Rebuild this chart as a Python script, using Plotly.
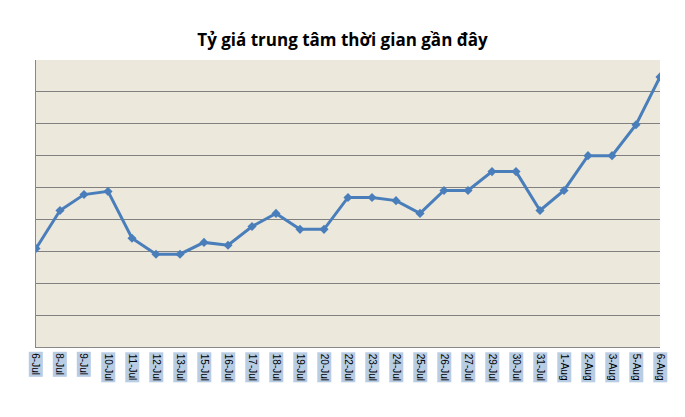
import plotly.graph_objects as go

categories = ["6-Jul","8-Jul","9-Jul","10-Jul","11-Jul","12-Jul","13-Jul","15-Jul","16-Jul","17-Jul",
              "18-Jul","19-Jul","20-Jul","22-Jul","23-Jul","24-Jul","25-Jul","26-Jul","27-Jul","29-Jul",
              "30-Jul","31-Jul","1-Aug","2-Aug","3-Aug","5-Aug","6-Aug"]
values = [3.09,4.28,4.78,4.88,3.41,2.91,2.91,3.28,3.19,3.78,
          4.19,3.69,3.69,4.69,4.69,4.59,4.19,4.91,4.91,5.5,
          5.5,4.28,4.91,6.0,6.0,6.97,8.47]
title = "Tỷ giá trung tâm thời gian gần đây"

idx = list(range(len(categories)))
fig = go.Figure(go.Scatter(x=idx, y=values, mode="lines+markers",
                           line=dict(color="#4A7EBB", width=3),
                           marker=dict(symbol="diamond", size=7, color="#4A7EBB")))
annotations = [dict(x=i, y=-0.015, xref="x", yref="paper", text=c, textangle=90,
                    showarrow=False, yanchor="top", xanchor="center",
                    bgcolor="#B8CCE4", font=dict(family="Liberation Sans", size=10, color="#000"))
               for i, c in zip(idx, categories)]
fig.update_layout(
    width=669, height=401, paper_bgcolor="white", plot_bgcolor="#ECE9DC",
    margin=dict(l=28, r=17, t=52, b=62), showlegend=False,
    title=dict(text="<b>" + title + "</b>", x=0.5, xanchor="center", y=0.92, yanchor="middle",
               font=dict(family="Open Sans", size=17, color="#000")),
    xaxis=dict(range=[0, 26], showticklabels=False, showgrid=False, zeroline=False,
               showline=True, linecolor="#888", mirror=False),
    yaxis=dict(range=[0, 9], dtick=1, showticklabels=False, gridcolor="#808080", gridwidth=1,
               zeroline=False, showline=True, linecolor="#888"),
    annotations=annotations,
    shapes=[dict(type="rect", xref="paper", yref="paper", x0=-0.0545, x1=1.035, y0=-0.23, y1=1.199,
                 line=dict(color="#888", width=1))],
)
fig.write_html("out.html")
